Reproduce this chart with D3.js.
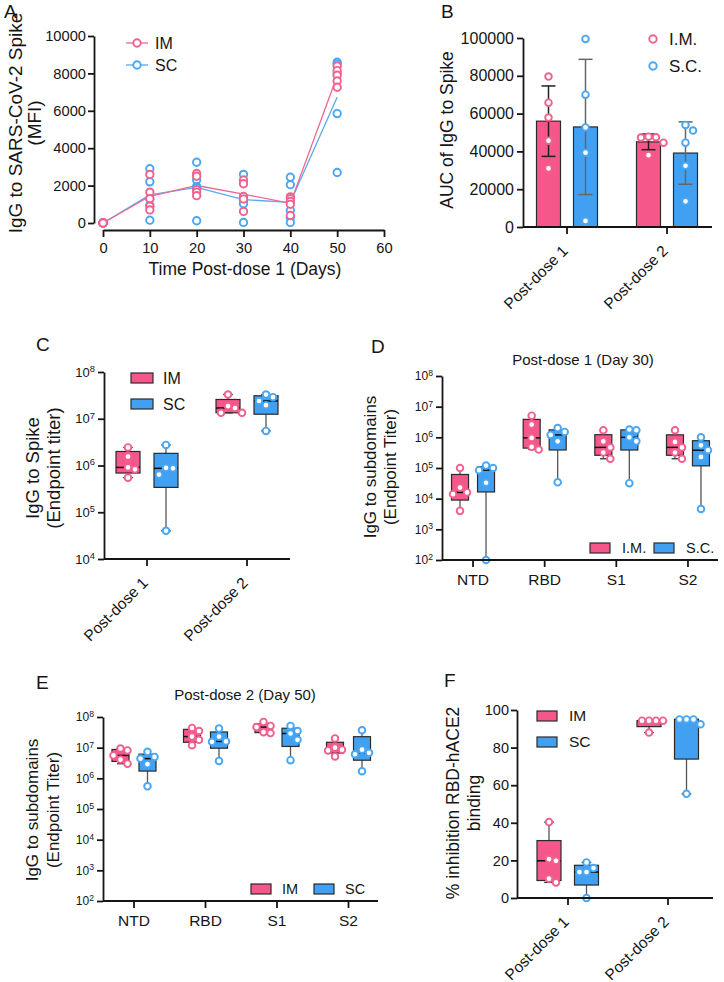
<!DOCTYPE html>
<html><head><meta charset="utf-8">
<script src="https://cdn.jsdelivr.net/npm/d3@7"></script>
<style>
body{margin:0;background:#fff}
text{font-family:"Liberation Sans",Arial,Helvetica,sans-serif;fill:#151515}
</style>
</head><body>
<svg id="c" width="724" height="982"></svg>
<script>
// ---------------- DATA ----------------
// Panel A: IgG to spike (MFI) over time
const daysA = [0, 10, 20, 30, 40, 50];
const imA = [[0,0,0,0,0],[2600,1650,1300,900,700],[2650,2500,1780,1640,1460],[2300,2100,1420,1280,620],[1400,1300,1150,1000,400],[8400,8150,7900,7600,7260]];
const scA = [[0,0,0,0,0],[2900,2200,1300,950,150],[3250,2300,1950,1880,120],[2600,1400,1190,1030,30],[2450,2050,680,300,30],[8600,8500,8000,5850,2700]];
const ticksAx = [0, 10, 20, 30, 40, 50, 60];
const ticksAy = [0, 2000, 4000, 6000, 8000, 10000];

// Panel B: AUC
const groupsB = ["Post-dose 1", "Post-dose 2"];
const imB = [[79600,65800,57900,45700,31000],[47800,47500,47300,44600,38000]];
const scB = [[99500,70000,52700,39300,3200],[54000,51000,44600,32400,13600]];
const ticksBy = [0, 20000, 40000, 60000, 80000, 100000];

// Panel C: endpoint titer to spike
const groupsC = ["Post-dose 1", "Post-dose 2"];
const imC = [[2.44e6,1.55e6,9.1e5,8.3e5,5.5e5],[3.3e7,1.87e7,1.7e7,1.34e7,1.34e7]];
const scC = [[2.75e6,8.9e5,8.7e5,6.4e5,4.0e4],[3.3e7,2.9e7,2.4e7,1.95e7,5.5e6]];
const ticksCy = [1e4, 1e5, 1e6, 1e7, 1e8];

// Panel D: subdomains, post-dose 1 (day 30)
const domains = ["NTD", "RBD", "S1", "S2"];
const imD = [[1e5,2.3e4,1.6e4,1.4e4,4e3],[5.1e6,2.6e6,9.6e5,4.9e5,4.0e5],[1.7e6,7.4e5,4.7e5,3.2e5,2.0e5],[1.7e6,7.1e5,4.7e5,3.2e5,2.0e5]];
const scD = [[1.2e5,1.0e5,8.5e4,3.3e4,100],[2.0e6,1.5e6,1.2e6,7.4e5,3.4e4],[1.8e6,1.7e6,1.0e6,7.4e5,3.2e4],[1.0e6,5.5e5,3.8e5,2.3e5,4.6e3]];
const ticksDy = [1e2, 1e3, 1e4, 1e5, 1e6, 1e7, 1e8];

// Panel E: subdomains, post-dose 2 (day 50)
const imE = [[9.4e6,8.1e6,5.6e6,4.1e6,3.0e6],[4.4e7,3.5e7,2.3e7,1.8e7,1.2e7],[6.9e7,5.1e7,4.7e7,3.2e7,3.0e7],[2.0e7,1.0e7,8.6e6,8.1e6,5.2e6]];
const scE = [[7.3e6,5.0e6,4.4e6,2.9e6,5.5e5],[4.2e7,2.3e7,1.6e7,1.55e7,3.7e6],[5.1e7,3.5e7,2.9e7,1.8e7,3.9e6],[3.7e7,8.6e6,6.8e6,6.1e6,1.7e6]];

// Panel F: % inhibition RBD-hACE2 binding
const groupsF = ["Post-dose 1", "Post-dose 2"];
const imF = [[40.4,20.7,19.8,10.3,8.3],[94.3,94.3,94.3,94.3,88.0]];
const scF = [[18.9,15.9,13.8,13.8,0],[95,95,95,92.4,55.4]];
const ticksFy = [0, 20, 40, 60, 80, 100];

// ---------------- STYLE ----------------
const PINK = "#F5578A", BLUE = "#41A0F2";
const PINK_PT = "#F2608E", BLUE_PT = "#48A6F4";
const INK = "#151515";
const svg = d3.select("#c");

function styleAxis(a, fs){
  a.select(".domain").attr("stroke", INK).attr("stroke-width", 1.8);
  a.selectAll(".tick line").attr("stroke", INK).attr("stroke-width", 1.8);
  a.selectAll(".tick text").attr("font-size", fs).attr("fill", INK)
    .style("font-family", '"Liberation Sans",Arial,sans-serif');
}
function yAxis(scale, x, ticks, fs, log, pad){
  const ax = d3.axisLeft(scale).tickValues(ticks).tickSize(6).tickSizeOuter(0).tickPadding(pad)
    .tickFormat(log ? () => "" : d3.format("d"));
  const a = svg.append("g").attr("transform", `translate(${x},0)`).call(ax);
  styleAxis(a, fs);
  if (log) {
    a.selectAll(".tick text").each(function(d){
      const t = d3.select(this);
      t.append("tspan").text("10");
      t.append("tspan").attr("dy", "-0.5em").attr("font-size", "0.72em").text(Math.round(Math.log10(d)));
    });
  }
  return a;
}
function xBandAxis(band, y, x1, x2, fs, rotate){
  svg.append("line").attr("x1", x1).attr("x2", x2).attr("y1", y).attr("y2", y)
    .attr("stroke", INK).attr("stroke-width", 1.8);
  const ax = d3.axisBottom(band).tickSize(7).tickSizeOuter(0).tickPadding(7);
  const a = svg.append("g").attr("transform", `translate(0,${y})`).call(ax);
  styleAxis(a, fs);
  a.select(".domain").remove();
  if (rotate) {
    a.selectAll(".tick text").remove();
    band.domain().forEach(lbl => {
      const cx = band(lbl) + band.bandwidth() / 2;
      svg.append("g").attr("transform", `translate(${cx - 2},${y + 21})`)
        .append("text").attr("transform", "rotate(-45)")
        .attr("text-anchor", "end").attr("dy", "0.35em").attr("font-size", fs).text(lbl);
    });
  }
  return a;
}
function vtitle(lines, xs, cy, fs){
  lines.forEach((l, i) => svg.append("text")
    .attr("transform", `translate(${xs[i]},${cy}) rotate(-90)`)
    .attr("text-anchor", "middle").attr("dy", "0.35em").attr("font-size", fs).text(l));
}
function letter(t, x, y){ svg.append("text").attr("x", x).attr("y", y).attr("font-size", 19).text(t); }

function quant(s, p){
  const n = s.length, pos = (n + 1) * p;
  if (pos <= 1) return s[0];
  if (pos >= n) return s[n - 1];
  const lo = Math.floor(pos), f = pos - lo;
  return s[lo - 1] + f * (s[lo] - s[lo - 1]);
}
function dodge(vals, y, cx, r, step){
  const pts = vals.map(v => ({v, py: y(v)})).sort((a, b) => a.py - b.py);
  const placed = [];
  pts.forEach(p => {
    for (let k = 0; k < 30; k++) {
      const off = k === 0 ? 0 : (k % 2 ? 1 : -1) * Math.ceil(k / 2) * step;
      const px = cx + off;
      if (placed.every(q => Math.hypot(q.px - px, q.py - p.py) >= 2 * r + 0.4)) { p.px = px; placed.push(p); break; }
    }
  });
  return placed;
}
function drawPoints(pts, color, r){
  svg.append("g").selectAll("circle").data(pts).join("circle")
    .attr("cx", d => d.px).attr("cy", d => d.py).attr("r", r)
    .attr("fill", "#fff").attr("stroke", color).attr("stroke-width", 1.9);
}
function drawBox(cx, w, y, vals, color, ptColor){
  const s = vals.slice().sort(d3.ascending);
  const q1 = quant(s, .25), med = quant(s, .5), q3 = quant(s, .75), mn = s[0], mx = s[s.length - 1];
  const g = svg.append("g");
  g.append("line").attr("x1", cx).attr("x2", cx).attr("y1", y(mx)).attr("y2", y(mn)).attr("stroke", "#555").attr("stroke-width", 1.3);
  [mn, mx].forEach(v => g.append("line").attr("x1", cx - w * 0.2).attr("x2", cx + w * 0.2)
    .attr("y1", y(v)).attr("y2", y(v)).attr("stroke", "#333").attr("stroke-width", 1.3));
  g.append("rect").attr("x", cx - w / 2).attr("width", w).attr("y", y(q3)).attr("height", Math.max(1, y(q1) - y(q3)))
    .attr("fill", color).attr("stroke", "#2a2a2a").attr("stroke-width", 1.2);
  g.append("line").attr("x1", cx - w / 2).attr("x2", cx + w / 2).attr("y1", y(med)).attr("y2", y(med))
    .attr("stroke", "#111").attr("stroke-width", 1.5);
  drawPoints(dodge(vals, y, cx, 3.3, 7), ptColor, 3.3);
}

// ---------------- PANEL A ----------------
{
  const x = d3.scaleLinear().domain([0, 60]).range([103, 384]);
  const y = d3.scaleLinear().domain([0, 10000]).range([223, 36]);
  yAxis(y, 94, ticksAy, 14.7, false, 2);
  const ax = d3.axisBottom(x).tickValues(ticksAx).tickSize(7).tickSizeOuter(0).tickPadding(6);
  styleAxis(svg.append("g").attr("transform", "translate(0,230)").call(ax), 14.7);
  const line = d3.line().x((d, i) => x(daysA[i])).y(d => y(d3.mean(d)));
  svg.append("path").datum(scA).attr("d", line).attr("fill", "none").attr("stroke", "#58A8F2").attr("stroke-width", 1.3);
  svg.append("path").datum(imA).attr("d", line).attr("fill", "none").attr("stroke", "#F0648F").attr("stroke-width", 1.3);
  const flat = arr => arr.flatMap((vals, i) => vals.map(v => ({px: x(daysA[i]), py: y(v)})));
  drawPoints(flat(scA), BLUE_PT, 3.7);
  drawPoints(flat(imA), PINK_PT, 3.7);
  [["IM", "#F0648F", PINK_PT, 43], ["SC", "#58A8F2", BLUE_PT, 65]].forEach(([t, lc, pc, ly]) => {
    svg.append("line").attr("x1", 126).attr("x2", 148).attr("y1", ly).attr("y2", ly).attr("stroke", lc).attr("stroke-width", 1.3);
    drawPoints([{px: 137, py: ly}], pc, 3.7);
    svg.append("text").attr("x", 155).attr("y", ly).attr("dy", "0.35em").attr("font-size", 16).text(t);
  });
  vtitle(["IgG to SARS-CoV-2 Spike", "(MFI)"], [15, 34], 123, 19);
  svg.append("text").attr("x", 245).attr("y", 275).attr("text-anchor", "middle").attr("font-size", 17.5).text("Time Post-dose 1 (Days)");
  letter("A", 4, 18);
}

// ---------------- PANEL B ----------------
{
  const y = d3.scaleLinear().domain([0, 100000]).range([227, 38]);
  const band = d3.scaleBand().domain(groupsB).range([517, 717]);
  const off = 18.5, w = 24;
  const series = [[imB, PINK, PINK_PT, -off, "#222"], [scB, BLUE, BLUE_PT, off, "#666"]];
  series.forEach(([data, col, pc, o, ec]) => {
    data.forEach((vals, i) => {
      const cx = band(groupsB[i]) + band.bandwidth() / 2 + o;
      const m = d3.mean(vals), sd = d3.deviation(vals);
      svg.append("rect").attr("x", cx - w / 2).attr("width", w).attr("y", y(m)).attr("height", y(0) - y(m))
        .attr("fill", col).attr("stroke", "#2a2a2a").attr("stroke-width", 1.2);
      svg.append("line").attr("x1", cx).attr("x2", cx).attr("y1", y(m + sd)).attr("y2", y(m - sd)).attr("stroke", ec).attr("stroke-width", 1.5);
      [m + sd, m - sd].forEach(v => svg.append("line").attr("x1", cx - 7).attr("x2", cx + 7).attr("y1", y(v)).attr("y2", y(v)).attr("stroke", ec).attr("stroke-width", 1.5));
      drawPoints(dodge(vals, y, cx, 3.3, 7.5), pc, 3.3);
    });
  });
  yAxis(y, 523, ticksBy, 16, false, 3);
  xBandAxis(band, 227, 523, 712, 15.5, true);
  [["I.M.", PINK_PT, 39], ["S.C.", BLUE_PT, 66]].forEach(([t, pc, ly]) => {
    drawPoints([{px: 653, py: ly}], pc, 3.7);
    svg.append("text").attr("x", 669).attr("y", ly).attr("dy", "0.35em").attr("font-size", 17).text(t);
  });
  vtitle(["AUC of IgG to Spike"], [447], 130, 17.5);
  letter("B", 441, 18);
}

// ---------------- PANEL C ----------------
{
  const y = d3.scaleLog().domain([1e4, 1e8]).range([559, 372]);
  const band = d3.scaleBand().domain(groupsC).range([97, 297]);
  [[imC, PINK, PINK_PT, -19], [scC, BLUE, BLUE_PT, 19]].forEach(([data, col, pc, o]) => {
    data.forEach((vals, i) => drawBox(band(groupsC[i]) + band.bandwidth() / 2 + o, 24, y, vals, col, pc));
  });
  yAxis(y, 104, ticksCy, 13, true, 3);
  xBandAxis(band, 559, 104, 290, 15.5, true);
  [["IM", PINK, 378], ["SC", BLUE, 404]].forEach(([t, col, ly]) => {
    svg.append("rect").attr("x", 131).attr("y", ly - 5).attr("width", 22).attr("height", 10).attr("fill", col).attr("stroke", "#2a2a2a").attr("stroke-width", 1.2);
    svg.append("text").attr("x", 163).attr("y", ly).attr("dy", "0.35em").attr("font-size", 16).text(t);
  });
  vtitle(["IgG to Spike", "(Endpoint titer)"], [33, 54], 468, 18.5);
  letter("C", 36, 351);
}

// ---------------- PANEL D ----------------
{
  const y = d3.scaleLog().domain([1e2, 1e8]).range([560, 376]);
  const band = d3.scaleBand().domain(domains).range([437.2, 723.8]);
  [[imD, PINK, PINK_PT, -13], [scD, BLUE, BLUE_PT, 13]].forEach(([data, col, pc, o]) => {
    data.forEach((vals, i) => drawBox(band(domains[i]) + band.bandwidth() / 2 + o, 17, y, vals, col, pc));
  });
  yAxis(y, 442, ticksDy, 12, true, 3);
  xBandAxis(band, 560, 442, 718, 15.5, false);
  [["I.M.", PINK, 590, 622], ["S.C.", BLUE, 654, 686]].forEach(([t, col, rx, tx]) => {
    svg.append("rect").attr("x", rx).attr("y", 543).attr("width", 20).attr("height", 10).attr("fill", col).attr("stroke", "#2a2a2a").attr("stroke-width", 1.2);
    svg.append("text").attr("x", tx).attr("y", 548).attr("dy", "0.35em").attr("font-size", 14.5).text(t);
  });
  svg.append("text").attr("x", 583).attr("y", 365).attr("text-anchor", "middle").attr("font-size", 15).text("Post-dose 1 (Day 30)");
  vtitle(["IgG to subdomains", "(Endpoint Titer)"], [370, 390], 467, 17);
  letter("D", 371, 353);
}

// ---------------- PANEL E ----------------
{
  const y = d3.scaleLog().domain([1e2, 1e8]).range([901, 717]);
  const band = d3.scaleBand().domain(domains).range([98.25, 384.25]);
  [[imE, PINK, PINK_PT, -13.5], [scE, BLUE, BLUE_PT, 13.5]].forEach(([data, col, pc, o]) => {
    data.forEach((vals, i) => drawBox(band(domains[i]) + band.bandwidth() / 2 + o, 17, y, vals, col, pc));
  });
  yAxis(y, 103, ticksDy, 12, true, 3);
  xBandAxis(band, 901, 103, 378, 15.5, false);
  [["IM", PINK, 251, 282], ["SC", BLUE, 314, 345]].forEach(([t, col, rx, tx]) => {
    svg.append("rect").attr("x", rx).attr("y", 884).attr("width", 20).attr("height", 10).attr("fill", col).attr("stroke", "#2a2a2a").attr("stroke-width", 1.2);
    svg.append("text").attr("x", tx).attr("y", 889).attr("dy", "0.35em").attr("font-size", 14.5).text(t);
  });
  svg.append("text").attr("x", 245).attr("y", 700).attr("text-anchor", "middle").attr("font-size", 15).text("Post-dose 2 (Day 50)");
  vtitle(["IgG to subdomains", "(Endpoint Titer)"], [32, 53], 810, 17);
  letter("E", 36, 689);
}

// ---------------- PANEL F ----------------
{
  const y = d3.scaleLinear().domain([0, 100]).range([898, 710]);
  const band = d3.scaleBand().domain(groupsF).range([518, 718]);
  [[imF, PINK, PINK_PT, -19], [scF, BLUE, BLUE_PT, 18.5]].forEach(([data, col, pc, o]) => {
    data.forEach((vals, i) => drawBox(band(groupsF[i]) + band.bandwidth() / 2 + o, 24, y, vals, col, pc));
  });
  yAxis(y, 517, ticksFy, 14.5, false, 2);
  xBandAxis(band, 898, 517, 713, 15.5, true);
  [["IM", PINK, 716], ["SC", BLUE, 742]].forEach(([t, col, ly]) => {
    svg.append("rect").attr("x", 537).attr("y", ly - 5).attr("width", 20).attr("height", 10).attr("fill", col).attr("stroke", "#2a2a2a").attr("stroke-width", 1.2);
    svg.append("text").attr("x", 569).attr("y", ly).attr("dy", "0.35em").attr("font-size", 15.5).text(t);
  });
  vtitle(["% inhibition RBD-hACE2", "binding"], [453, 474], 803, 17.5);
  letter("F", 444, 687);
}
</script>
</body></html>
